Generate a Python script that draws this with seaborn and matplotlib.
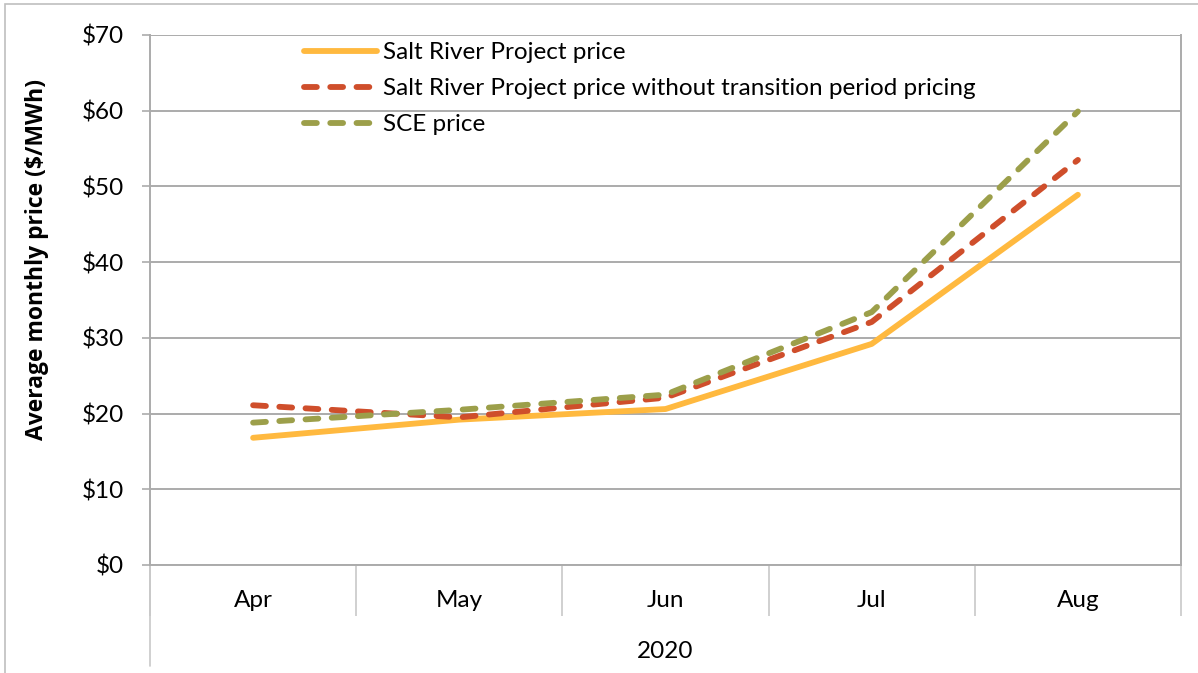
import numpy as np
import pandas as pd
import matplotlib
matplotlib.use('Agg')
import matplotlib.pyplot as plt
from matplotlib.patches import Rectangle
import seaborn as sns

# data
months = ['Apr', 'May', 'Jun', 'Jul', 'Aug']
year_label = '2020'
srp_price = [16.8, 19.2, 20.6, 29.2, 48.9]
srp_no_transition = [21.1, 19.5, 22.1, 32.1, 53.5]
sce_price = [18.8, 20.5, 22.5, 33.4, 59.9]
series_names = ['Salt River Project price',
                'Salt River Project price without transition period pricing',
                'SCE price']
series_colors = ['#FFB93F', '#CF4E2B', '#9C9F4A']
yticks = [0, 10, 20, 30, 40, 50, 60, 70]

sns.set_theme(style='white')
plt.rcParams['font.family'] = ['Lato', 'DejaVu Sans']
plt.rcParams['text.color'] = 'black'

fig = plt.figure(figsize=(11.98, 6.73), dpi=100)
ax = fig.add_axes([150 / 1198, 1 - 565 / 673, 1031 / 1198, 530 / 673])

# outer chart border (partly visible)
fig.patches.append(Rectangle((5 / 1198, -0.1), 1.2, 1 - 4 / 673 + 0.1,
                             transform=fig.transFigure, fill=False,
                             edgecolor='#BFBFBF', lw=1.2, zorder=0))

x = np.arange(len(months))
df = pd.DataFrame({'x': x, 'srp': srp_price, 'srp_nt': srp_no_transition, 'sce': sce_price})

dash = (0, (2.2, 2.3))
sns.lineplot(data=df, x='x', y='srp', ax=ax, color=series_colors[0], lw=4.2,
             label=series_names[0], solid_capstyle='round')
sns.lineplot(data=df, x='x', y='srp_nt', ax=ax, color=series_colors[1], lw=4.2,
             label=series_names[1], linestyle=dash, dash_capstyle='round')
sns.lineplot(data=df, x='x', y='sce', ax=ax, color=series_colors[2], lw=4.2,
             label=series_names[2], linestyle=dash, dash_capstyle='round')

ax.set_xlim(-0.5, len(months) - 0.5)
ax.set_ylim(0, 70)
ax.set_yticks(yticks)
ax.set_yticklabels(['$%d' % v for v in yticks], fontsize=17.5)
ax.grid(axis='y', color='#ABABAB', lw=1.4)
ax.set_axisbelow(True)

for s in ['left', 'right', 'bottom']:
    ax.spines[s].set_color('#ABABAB')
    ax.spines[s].set_linewidth(1.4)
ax.spines['top'].set_visible(False)
ax.tick_params(axis='y', which='major', left=True, length=6, width=1.2,
               color='#ABABAB', pad=13, labelcolor='black')

# multi-level category axis
ax.set_xticks(np.arange(len(months) + 1) - 0.5)
ax.set_xticklabels([])
ax.tick_params(axis='x', which='major', bottom=True, length=37, width=1.2,
               color='#C8C8C8', direction='out')
ax.set_xticks(x, minor=True)
ax.set_xticklabels(months, minor=True, fontsize=17.5)
ax.tick_params(axis='x', which='minor', bottom=True, length=0, pad=18, labelcolor='black')
ax.plot([-0.5, -0.5], [0, -0.19], transform=ax.get_xaxis_transform(),
        clip_on=False, color='#C8C8C8', lw=1.2)
ax.text((len(months) - 1) / 2, -0.164, year_label, transform=ax.get_xaxis_transform(),
        ha='center', va='center', fontsize=17.5, color='black')

ax.set_xlabel('')
ax.set_ylabel('Average monthly price ($/MWh)', fontsize=16.5, fontweight='bold',
              family=['Open Sans', 'DejaVu Sans'], color='black')
ax.yaxis.set_label_coords(-0.098, 0.577)

leg = ax.legend(loc='upper left', bbox_to_anchor=(0.14, 1.005), frameon=False,
                fontsize=17.5, handlelength=3.0, handletextpad=0.25, labelspacing=0.62,
                borderaxespad=0)
for t in leg.get_texts():
    t.set_color('black')
for h in leg.get_lines():
    h.set_dash_capstyle('round')
    h.set_solid_capstyle('round')

fig.savefig('out.png', dpi=100)
